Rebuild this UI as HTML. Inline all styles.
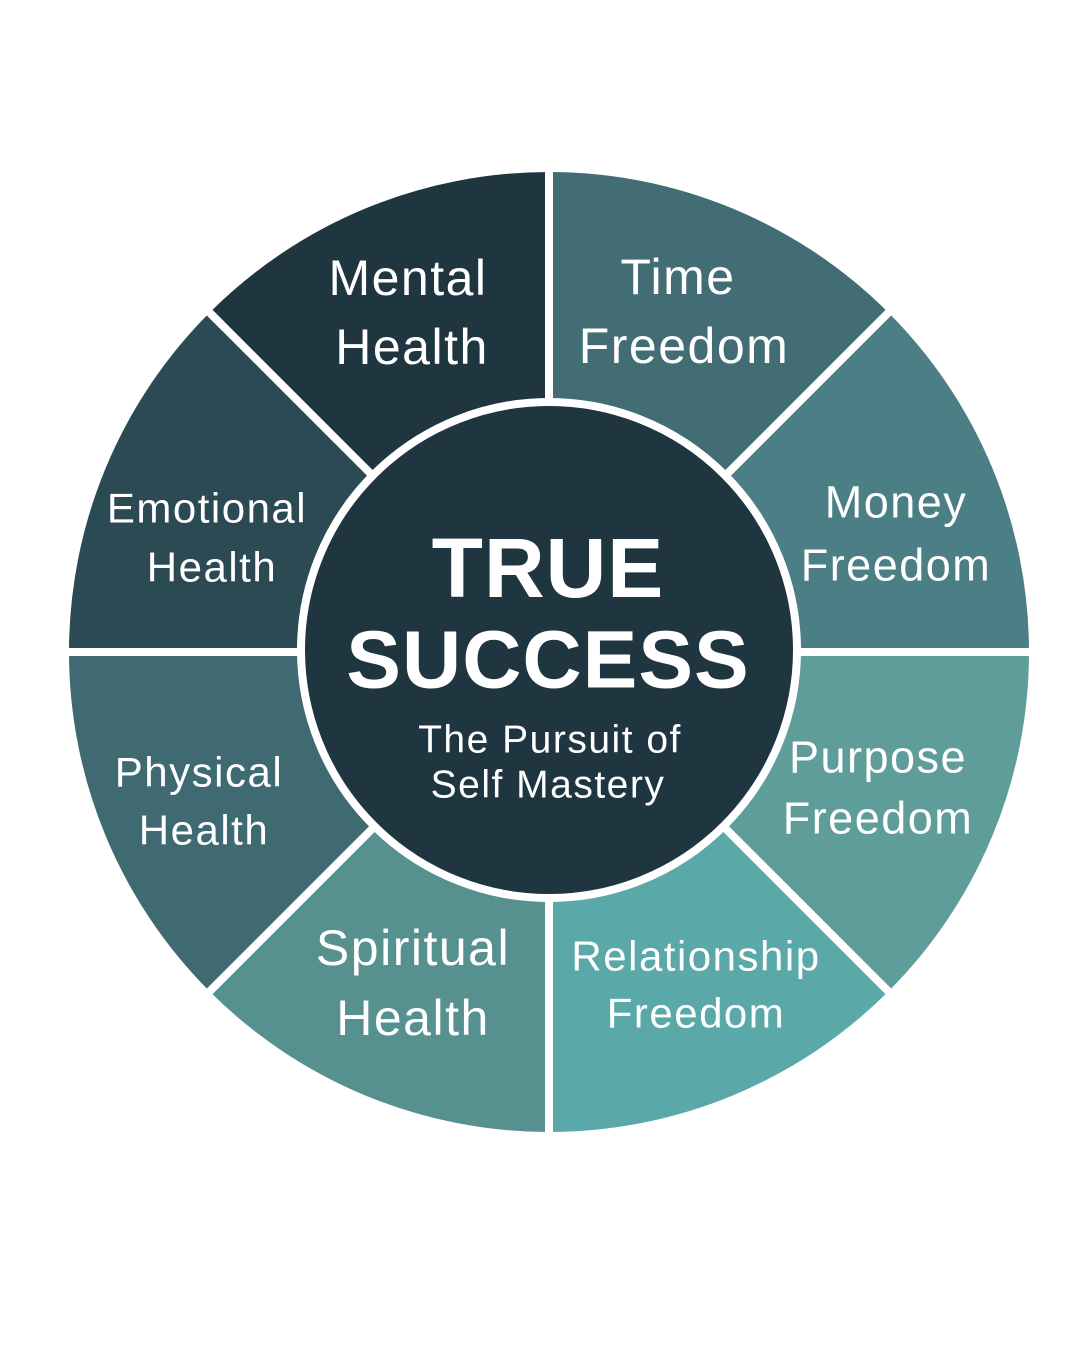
<!DOCTYPE html>
<html><head><meta charset="utf-8"><style>html,body{margin:0;padding:0;background:#fff}svg{display:block}</style></head>
<body>
<svg width="1080" height="1350" viewBox="0 0 1080 1350" xmlns="http://www.w3.org/2000/svg" font-family="Liberation Sans, sans-serif">
<rect width="1080" height="1350" fill="#fff"/>
<g>
<path d="M549,652 L549,172 A480,480 0 0 1 888.4,312.6 Z" fill="#426d75"/>
<path d="M549,652 L888.4,312.6 A480,480 0 0 1 1029,652 Z" fill="#4b7f85"/>
<path d="M549,652 L1029,652 A480,480 0 0 1 888.4,991.4 Z" fill="#5f9d9b"/>
<path d="M549,652 L888.4,991.4 A480,480 0 0 1 549,1132 Z" fill="#5aa9a8"/>
<path d="M549,652 L549,1132 A480,480 0 0 1 209.6,991.4 Z" fill="#57918f"/>
<path d="M549,652 L209.6,991.4 A480,480 0 0 1 69,652 Z" fill="#3f6a71"/>
<path d="M549,652 L69,652 A480,480 0 0 1 209.6,312.6 Z" fill="#2b4a53"/>
<path d="M549,652 L209.6,312.6 A480,480 0 0 1 549,172 Z" fill="#1f3540"/>
</g>
<g stroke="#fff" stroke-width="8">
<line x1="549" y1="160" x2="549" y2="1144"/>
<line x1="57" y1="652" x2="1041" y2="652"/>
<line x1="200" y1="303" x2="898" y2="1001"/>
<line x1="898" y1="303" x2="200" y2="1001"/>
</g>
<circle cx="549" cy="650" r="248" fill="#1f3540" stroke="#fff" stroke-width="8"/>
<g fill="#fff" text-anchor="middle" dominant-baseline="central" letter-spacing="1.5">
<text x="408" y="278" font-size="50">Mental</text>
<text x="412" y="347" font-size="50">Health</text>
<text x="678" y="277" font-size="50">Time</text>
<text x="684" y="346" font-size="50">Freedom</text>
<text x="896" y="502" font-size="45">Money</text>
<text x="896" y="565" font-size="45">Freedom</text>
<text x="207" y="508" font-size="42">Emotional</text>
<text x="212" y="567" font-size="42">Health</text>
<text x="199" y="772" font-size="42">Physical</text>
<text x="204" y="830" font-size="42">Health</text>
<text x="878" y="757" font-size="45">Purpose</text>
<text x="878" y="818" font-size="45">Freedom</text>
<text x="413" y="948" font-size="50">Spiritual</text>
<text x="413" y="1018" font-size="50">Health</text>
<text x="696" y="956" font-size="42">Relationship</text>
<text x="696" y="1013" font-size="42">Freedom</text>
<text x="548" y="568" font-size="84" font-weight="bold" letter-spacing="1">TRUE</text>
<text x="548" y="660" font-size="82" font-weight="bold" letter-spacing="1">SUCCESS</text>
<text x="550" y="740" font-size="39">The Pursuit of</text>
<text x="548" y="785" font-size="39">Self Mastery</text>
</g>
</svg>
</body></html>
